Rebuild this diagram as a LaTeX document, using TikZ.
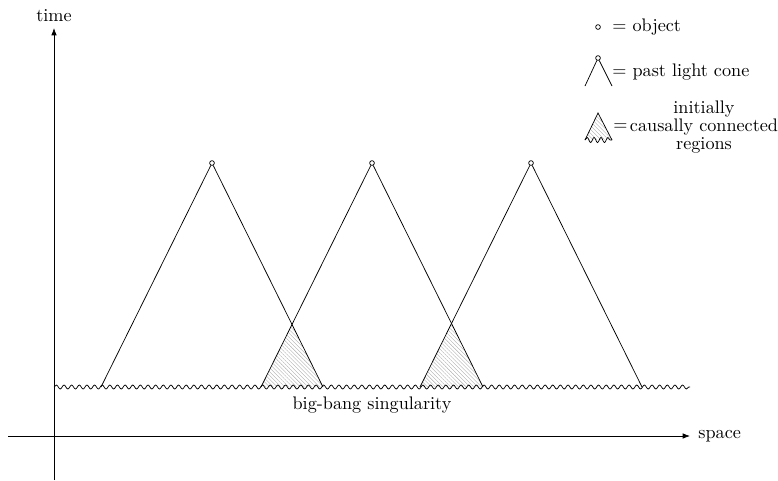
\documentclass[tikz,border=0pt]{standalone}
\usetikzlibrary{decorations.pathmorphing,patterns.meta,arrows.meta}
\begin{document}
\begin{tikzpicture}[x=0.55pt,y=-0.55pt,
  obj/.style={circle,draw,inner sep=0pt,minimum size=2.6pt,line width=0.4pt},
  wavy/.style={decorate,decoration={snake,amplitude=1.1pt,segment length=4.2pt}},
  lwavy/.style={decorate,decoration={snake,amplitude=1.4pt,segment length=3.8pt}},
  hatch/.style={pattern={Lines[angle=-45,distance=1.5pt,line width=0.2pt]},pattern color=gray!65},
  axis/.style={-{Latex[length=4pt,width=3pt]},line width=0.4pt}]
\useasboundingbox (0,0) rectangle (778,480);
% axes
\coordinate (tb) at (54,480);
\coordinate (tt) at (54,28);
\coordinate (sl) at (8,436);
\coordinate (sr) at (690,436);
\draw[axis] (tb) -- (tt);
\draw[axis] (sl) -- (sr);
\node[anchor=base] (tlabel) at (54,21) {time};
\node[anchor=west] (slabel) at (692,436) {space};
% cones
\coordinate (l1) at (101,387); \coordinate (r1) at (323,387);
\coordinate (l2) at (261,387); \coordinate (r2) at (483,387);
\coordinate (l3) at (420,387); \coordinate (r3) at (642,387);
\coordinate (i1) at (292,324.4);
\coordinate (i2) at (451.5,323.4);
\fill[hatch] (i1) -- (r1) -- (l2) -- cycle;
\fill[hatch] (i2) -- (r2) -- (l3) -- cycle;
\node[obj] (o1) at (212,163) {};
\node[obj] (o2) at (372,163) {};
\node[obj] (o3) at (531,163) {};
\draw (l1) -- (o1) -- (r1);
\draw (l2) -- (o2) -- (r2);
\draw (l3) -- (o3) -- (r3);
% singularity
\coordinate (ws) at (54,387);
\coordinate (we) at (690,387);
\draw[wavy] (ws) -- (we);
\node (bb) at (372,405) {big-bang singularity};
% legend
\node[obj] (lo) at (598,27) {};
\node[anchor=west,inner sep=0pt] (lot) at (612,27) {$=$ object};
\node[obj] (lc) at (598,58) {};
\coordinate (lcl) at (585,86); \coordinate (lcr) at (612,86);
\draw (lcl) -- (lc) -- (lcr);
\node[anchor=west,inner sep=0pt] (lct) at (612,72) {$=$ past light cone};
\coordinate (lh) at (598,113);
\coordinate (lhl) at (585,140); \coordinate (lhr) at (612,140);
\fill[hatch] (lh) -- (lhl) -- (lhr) -- cycle;
\draw (lhl) -- (lh) -- (lhr);
\draw[lwavy] (lhl) -- (lhr);
\node[anchor=west,inner sep=0pt] (lhe) at (613,127) {$=$};
\node[align=center,inner sep=0pt] (lht) at (704,127) {initially\\[-2pt]causally connected\\[-2pt]regions};
\end{tikzpicture}
\end{document}
